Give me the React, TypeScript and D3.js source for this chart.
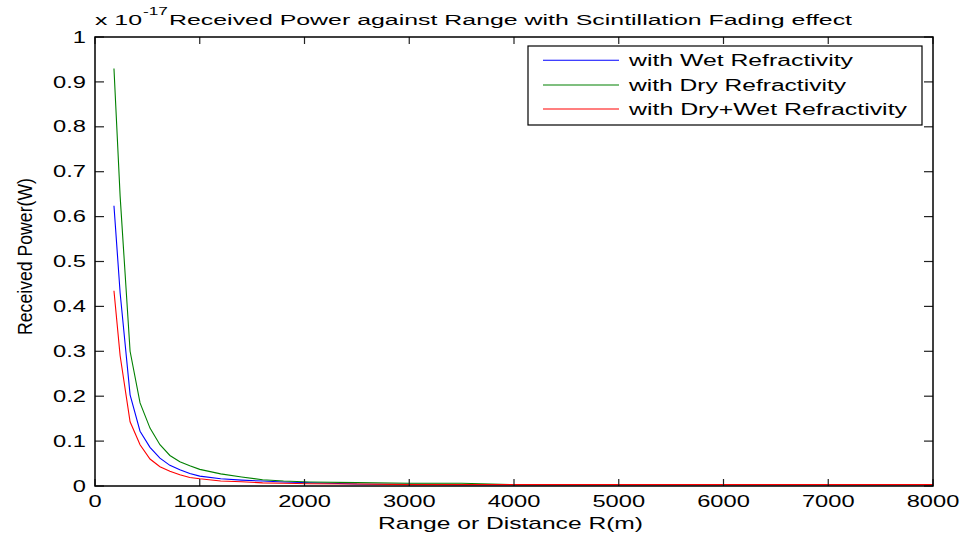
import { useEffect, useRef } from "react";
import * as d3 from "d3";

// range in metres
const ranges = [181, 240, 335, 430, 525, 620, 715, 810, 905, 1000, 1200, 1400, 1600, 1800, 2050, 2500, 3000, 3500, 4000, 5000, 6000, 7000, 8000];
// received power, x 1e-17 W
const wetPower = [0.624, 0.43, 0.203, 0.122, 0.086, 0.062, 0.046, 0.036, 0.028, 0.022, 0.016, 0.013, 0.011, 0.009, 0.0074, 0.0045, 0.004, 0.003, 0.003, 0.003, 0.003, 0.003, 0.003];
const dryPower = [0.93, 0.645, 0.3, 0.185, 0.129, 0.092, 0.068, 0.054, 0.045, 0.037, 0.027, 0.02, 0.014, 0.011, 0.009, 0.0075, 0.006, 0.006, 0.003, 0.003, 0.003, 0.003, 0.003];
const bothPower = [0.435, 0.29, 0.143, 0.092, 0.06, 0.043, 0.033, 0.025, 0.019, 0.016, 0.011, 0.0095, 0.007, 0.006, 0.005, 0.0045, 0.003, 0.003, 0.003, 0.003, 0.003, 0.003, 0.003];

const xTicks = [0, 1000, 2000, 3000, 4000, 5000, 6000, 7000, 8000];
const yTicks = [0, 0.1, 0.2, 0.3, 0.4, 0.5, 0.6, 0.7, 0.8, 0.9, 1];

const seriesList = [
  { name: "with Wet Refractivity", values: wetPower, color: "#0000ff", w: 224 },
  { name: "with Dry Refractivity", values: dryPower, color: "#008000", w: 217 },
  { name: "with Dry+Wet Refractivity", values: bothPower, color: "#ff0000", w: 278 },
];

const W = 962;
const H = 533;
const FONT = "'Liberation Sans', Arial, sans-serif";
const STRETCH = 1.5; // the picture's text is wider than tall

export default function App() {
  const ref = useRef<SVGSVGElement | null>(null);

  useEffect(() => {
    const svg = d3.select(ref.current);
    svg.selectAll("*").remove();

    const left = 95, right = 933, top = 37, bottom = 486;
    const x = d3.scaleLinear().domain([0, 8000]).range([left, right]);
    const y = d3.scaleLinear().domain([0, 1]).range([bottom, top]);

    svg.append("rect").attr("width", W).attr("height", H).attr("fill", "#fff");

    // curves
    const line = d3
      .line<number>()
      .x((_, i) => x(ranges[i]))
      .y((d) => y(d));

    seriesList.forEach((s) => {
      svg
        .append("path")
        .attr("d", line(s.values))
        .attr("fill", "none")
        .attr("stroke", s.color)
        .attr("stroke-width", 1.1);
    });

    // ticks (inward, on all four sides)
    const tk = svg.append("g").attr("stroke", "#222").attr("stroke-width", 1.2);
    xTicks.forEach((t) => {
      tk.append("line").attr("x1", x(t)).attr("x2", x(t)).attr("y1", bottom).attr("y2", bottom - 7);
      tk.append("line").attr("x1", x(t)).attr("x2", x(t)).attr("y1", top).attr("y2", top + 7);
    });
    yTicks.forEach((t) => {
      tk.append("line").attr("x1", left).attr("x2", left + 9).attr("y1", y(t)).attr("y2", y(t));
      tk.append("line").attr("x1", right).attr("x2", right - 9).attr("y1", y(t)).attr("y2", y(t));
    });

    // axes box
    svg
      .append("rect")
      .attr("x", left)
      .attr("y", top)
      .attr("width", right - left)
      .attr("height", bottom - top)
      .attr("fill", "none")
      .attr("stroke", "#000")
      .attr("stroke-width", 1.5);

    const stext = (px: number, py: number, str: string, size: number, anchor: string) =>
      svg
        .append("text")
        .attr("transform", `translate(${px},${py}) scale(${STRETCH},1)`)
        .attr("text-anchor", anchor)
        .style("font-family", FONT)
        .style("font-size", `${size}px`)
        .attr("fill", "#000")
        .text(str);

    yTicks.forEach((t) => stext(86, y(t) + 5.6, t === 0 || t === 1 ? String(t) : d3.format(".1f")(t), 15.8, "end"));
    xTicks.forEach((t) => stext(x(t), 507, String(t), 15.8, "middle"));

    const ltext = (px: number, py: number, str: string, size: number, len: number) =>
      svg
        .append("text")
        .attr("x", px)
        .attr("y", py)
        .attr("textLength", len)
        .attr("lengthAdjust", "spacingAndGlyphs")
        .style("font-family", FONT)
        .style("font-size", `${size}px`)
        .attr("fill", "#000")
        .text(str);

    // title with exponent
    ltext(95, 24.5, "x 10", 15.5, 47);
    ltext(143, 15, "-17", 11, 25);
    ltext(169, 24.5, "Received Power against Range with Scintillation Fading effect", 15.5, 683);

    // x label
    ltext(378, 529, "Range or Distance R(m)", 16.4, 265);

    // y label
    svg
      .append("text")
      .attr("transform", "translate(32,256.5) rotate(-90) scale(1,1.2)")
      .attr("text-anchor", "middle")
      .attr("textLength", 157)
      .attr("lengthAdjust", "spacingAndGlyphs")
      .style("font-family", FONT)
      .style("font-size", "17px")
      .text("Received Power(W)");

    // legend
    const lg = svg.append("g");
    lg.append("rect")
      .attr("x", 528)
      .attr("y", 46)
      .attr("width", 394)
      .attr("height", 79)
      .attr("fill", "#fff")
      .attr("stroke", "#000")
      .attr("stroke-width", 1.2);
    const rowY = [60.3, 85, 109];
    seriesList.forEach((s, i) => {
      lg.append("line")
        .attr("x1", 543)
        .attr("x2", 619)
        .attr("y1", rowY[i])
        .attr("y2", rowY[i])
        .attr("stroke", s.color)
        .attr("stroke-width", 1.1);
      ltext(629, rowY[i] + 6, s.name, 15.8, s.w);
    });
  }, []);

  return (
    <svg
      ref={ref}
      width={W}
      height={H}
      style={{ position: "absolute", left: 0, top: 0, display: "block" }}
    />
  );
}
